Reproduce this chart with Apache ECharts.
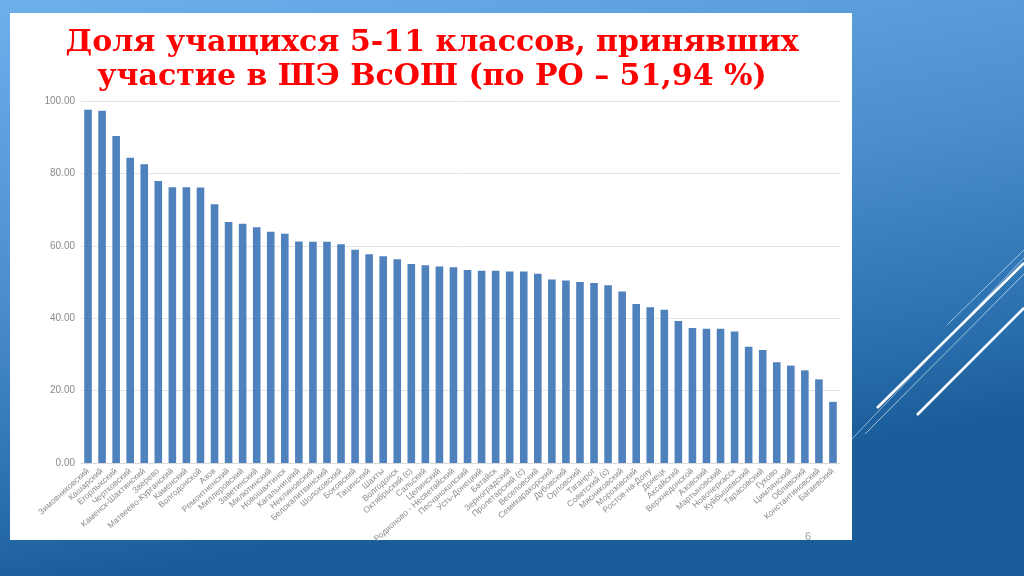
<!DOCTYPE html>
<html>
<head>
<meta charset="utf-8">
<script src="https://cdn.jsdelivr.net/npm/echarts@6/dist/echarts.min.js"></script>
<style>
html,body{margin:0;padding:0;width:1024px;height:576px;overflow:hidden;}
#chart{width:1024px;height:576px;}
</style>
</head>
<body>
<div id="chart"></div>
<script>
const titleLines = ['Доля учащихся 5-11 классов, принявших', 'участие в ШЭ ВсОШ (по РО – 51,94 %)'];
const categories = ['Зимовниковский','Кашарский','Егорлыкский','Чертковский','Каменск-Шахтинский','Зверево','Матвеево-Курганский','Каменский','Волгодонской','Азов','Ремонтненский','Миллеровский','Заветинский','Милютинский','Новошахтинск','Кагальницкий','Неклиновский','Белокалитвинский','Шолоховский','Боковский','Тацинский','Шахты','Волгодонск','Октябрьский (с)','Сальский','Целинский','Родионово - Несветайский','Песчанокопский','Усть-Донецкий','Батайск','Зерноградский','Пролетарский (с)','Веселовский','Семикаракорский','Дубовский','Орловский','Таганрог','Советский (с)','Мясниковский','Морозовский','Ростов-на-Дону','Донецк','Аксайский','Верхнедонской','Азовский','Мартыновский','Новочеркасск','Куйбышевский','Тарасовский','Гуково','Цимлянский','Обливский','Константиновский','Багаевский'];
const values = [97.6,97.3,90.3,84.3,82.5,77.9,76.2,76.2,76.1,71.5,66.6,66.1,65.1,63.9,63.3,61.2,61.1,61.1,60.4,58.9,57.7,57.1,56.3,55.0,54.6,54.3,54.1,53.3,53.1,53.1,52.9,52.9,52.3,50.7,50.4,50.0,49.7,49.1,47.4,43.9,43.0,42.3,39.2,37.3,37.1,37.1,36.3,32.1,31.2,27.8,26.9,25.6,23.1,16.9];
const yMin = 0, yMax = 100, yStep = 20;
const pageNumber = '6';

const chart = echarts.init(document.getElementById('chart'));
chart.setOption({
  backgroundColor: {type:'linear', x:0, y:0, x2:0.1, y2:1, colorStops:[
    {offset:0, color:'#6db0ec'},
    {offset:0.5, color:'#4a8ecd'},
    {offset:0.85, color:'#2a6fad'},
    {offset:1, color:'#195d9a'}
  ]},
  graphic: [
    {type:'rect', z:-10, shape:{x:10, y:13, width:842, height:527}, style:{fill:'#ffffff'}},
    {type:'line', z:-5, shape:{x1:852, y1:439, x2:1024, y2:258}, style:{stroke:'rgba(255,255,255,0.55)', lineWidth:1}},
    {type:'line', z:-5, shape:{x1:865, y1:434, x2:1024, y2:274}, style:{stroke:'rgba(255,255,255,0.6)', lineWidth:1}},
    {type:'line', z:-5, shape:{x1:877, y1:408, x2:1024, y2:263}, style:{stroke:'#ffffff', lineWidth:2.5}},
    {type:'line', z:-5, shape:{x1:947, y1:325, x2:1024, y2:250}, style:{stroke:'rgba(255,255,255,0.55)', lineWidth:1}},
    {type:'line', z:-5, shape:{x1:917, y1:415, x2:1024, y2:308}, style:{stroke:'#ffffff', lineWidth:2.5}},
    {type:'text', z:5, x:432, y:43, style:{text:titleLines[0], fill:'#ff0000', font:'bold 30px "DejaVu Serif"', textAlign:'center', textVerticalAlign:'middle'}},
    {type:'text', z:5, x:432, y:77, style:{text:titleLines[1], fill:'#ff0000', font:'bold 30px "DejaVu Serif"', textAlign:'center', textVerticalAlign:'middle'}},
    {type:'text', z:5, x:808, y:537, style:{text:pageNumber, fill:'#a0a0a0', font:'11px "Liberation Sans"', textAlign:'center', textVerticalAlign:'middle'}}
  ],
  grid: {left:81, right:184, top:101, bottom:113, containLabel:false},
  xAxis: {
    type:'category', data:categories,
    axisLine:{show:true, lineStyle:{color:'#d9d9d9'}},
    axisTick:{show:false},
    axisLabel:{interval:0, rotate:42, fontSize:8.5, color:'#8a8a8a', fontFamily:'Liberation Sans', margin:7}
  },
  yAxis: {
    type:'value', min:yMin, max:yMax, interval:yStep,
    axisLine:{show:false}, axisTick:{show:false},
    splitLine:{lineStyle:{color:'#e4e4e4'}},
    axisLabel:{formatter:v=>v.toFixed(2), fontSize:10, color:'#8a8a8a', fontFamily:'Liberation Sans', margin:6}
  },
  series: [{
    type:'bar', data:values, barCategoryGap:'46%',
    itemStyle:{color:'#4f81bd'}
  }]
});
</script>
</body>
</html>
